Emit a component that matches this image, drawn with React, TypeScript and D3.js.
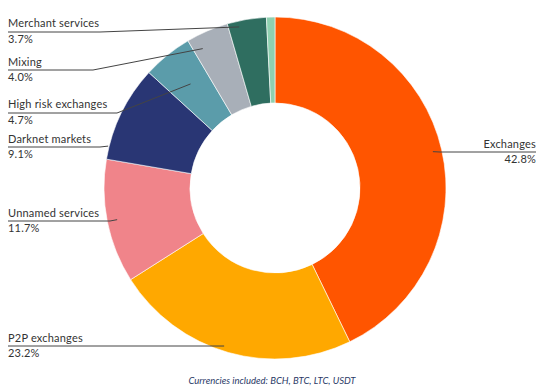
import React, { useEffect, useRef } from 'react';
import * as d3 from 'd3';

// slice order: clockwise from 12 o'clock
const categories = [
  'Exchanges',
  'P2P exchanges',
  'Unnamed services',
  'Darknet markets',
  'High risk exchanges',
  'Mixing',
  'Merchant services',
  'Other',
];
const shares = [42.8, 23.2, 11.7, 9.1, 4.7, 4.0, 3.7, 0.8];
const shareLabels = ['42.8%', '23.2%', '11.7%', '9.1%', '4.7%', '4.0%', '3.7%', ''];
const colors = [
  '#ff5500',
  '#ffa800',
  '#f0848a',
  '#293674',
  '#5b9caa',
  '#a8afb8',
  '#2f6e60',
  '#8fd0b0',
];
const footnote = 'Currencies included: BCH, BTC, LTC, USDT';

// label placement (hand-tuned to the original layout)
const labelLayout: Record<
  string,
  { x: number; y: number; side: 'left' | 'right'; underline: number; elbow: number; leadR: number; nudge: number }
> = {
  Exchanges: { x: 536, y: 148, side: 'right', underline: 152, elbow: 440, leadR: 162, nudge: 0 },
  'P2P exchanges': { x: 8, y: 342, side: 'left', underline: 346, elbow: 200, leadR: 166, nudge: 2 },
  'Unnamed services': { x: 8, y: 217, side: 'left', underline: 221, elbow: 110, leadR: 161, nudge: 0 },
  'Darknet markets': { x: 8, y: 143, side: 'left', underline: 147, elbow: 100, leadR: 172, nudge: -12 },
  'High risk exchanges': { x: 8, y: 108, side: 'left', underline: 113, elbow: 117, leadR: 134, nudge: 0 },
  Mixing: { x: 8, y: 66, side: 'left', underline: 70, elbow: 93, leadR: 157, nudge: -4 },
  'Merchant services': { x: 8, y: 27, side: 'left', underline: 32, elbow: 100, leadR: 165, nudge: -3 },
};

const App = () => {
  const svgRef = useRef<SVGSVGElement>(null);

  useEffect(() => {
    const width = 545;
    const height = 386;
    const cx = 275;
    const cy = 188;
    const outerR = 171;
    const innerR = 85;

    const svg = d3.select(svgRef.current).attr('width', width).attr('height', height);
    svg.selectAll('*').remove();

    const data = categories.map((c, i) => ({ name: c, value: shares[i], label: shareLabels[i], color: colors[i] }));

    const pie = d3
      .pie<{ name: string; value: number }>()
      .value((d) => d.value)
      .sort(null);
    const arcs = pie(data as any);

    const arc = d3.arc<d3.PieArcDatum<any>>().innerRadius(innerR).outerRadius(outerR);

    const g = svg.append('g').attr('transform', `translate(${cx}, ${cy})`);

    g.selectAll('path')
      .data(arcs)
      .enter()
      .append('path')
      .attr('d', arc)
      .attr('fill', (d: any) => d.data.color)
      .attr('stroke', '#ffffff')
      .attr('stroke-width', 0.6);

    // labels + leader lines
    const labelled = arcs.filter((d: any) => labelLayout[d.data.name]);
    labelled.forEach((d: any) => {
      const L = labelLayout[d.data.name];
      const mid = (d.startAngle + d.endAngle) / 2 + (L.nudge * Math.PI) / 180;
      const px = cx + L.leadR * Math.sin(mid);
      const py = cy - L.leadR * Math.cos(mid);
      const anchor = L.side === 'right' ? 'end' : 'start';

      svg
        .append('text')
        .attr('x', L.x)
        .attr('y', L.y)
        .attr('font-family', 'Lato, sans-serif')
        .attr('font-size', '11px')
        .attr('letter-spacing', '0.2px')
        .attr('fill', '#333')
        .attr('text-anchor', anchor)
        .text(d.data.name);

      svg
        .append('text')
        .attr('x', L.x)
        .attr('y', L.underline + 11)
        .attr('font-family', 'Lato, sans-serif')
        .attr('font-size', '11px')
        .attr('letter-spacing', '0.2px')
        .attr('fill', '#333')
        .attr('text-anchor', anchor)
        .text(d.data.label);

      const pts: [number, number][] = [
        [L.x, L.underline],
        [L.elbow, L.underline],
        [px, py],
      ];
      svg
        .append('path')
        .attr('d', d3.line()(pts))
        .attr('fill', 'none')
        .attr('stroke', '#444')
        .attr('stroke-width', 1);
    });

    svg
      .append('text')
      .attr('x', 272)
      .attr('y', 384)
      .attr('text-anchor', 'middle')
      .attr('font-family', 'Lato, sans-serif')
      .attr('font-style', 'italic')
      .attr('font-size', '9.5px')
      .attr('fill', '#2b3a67')
      .text(footnote);
  }, []);

  return (
    <div>
      <svg ref={svgRef} style={{ position: 'absolute', left: 0, top: 0 }}></svg>
    </div>
  );
};

export default App;
